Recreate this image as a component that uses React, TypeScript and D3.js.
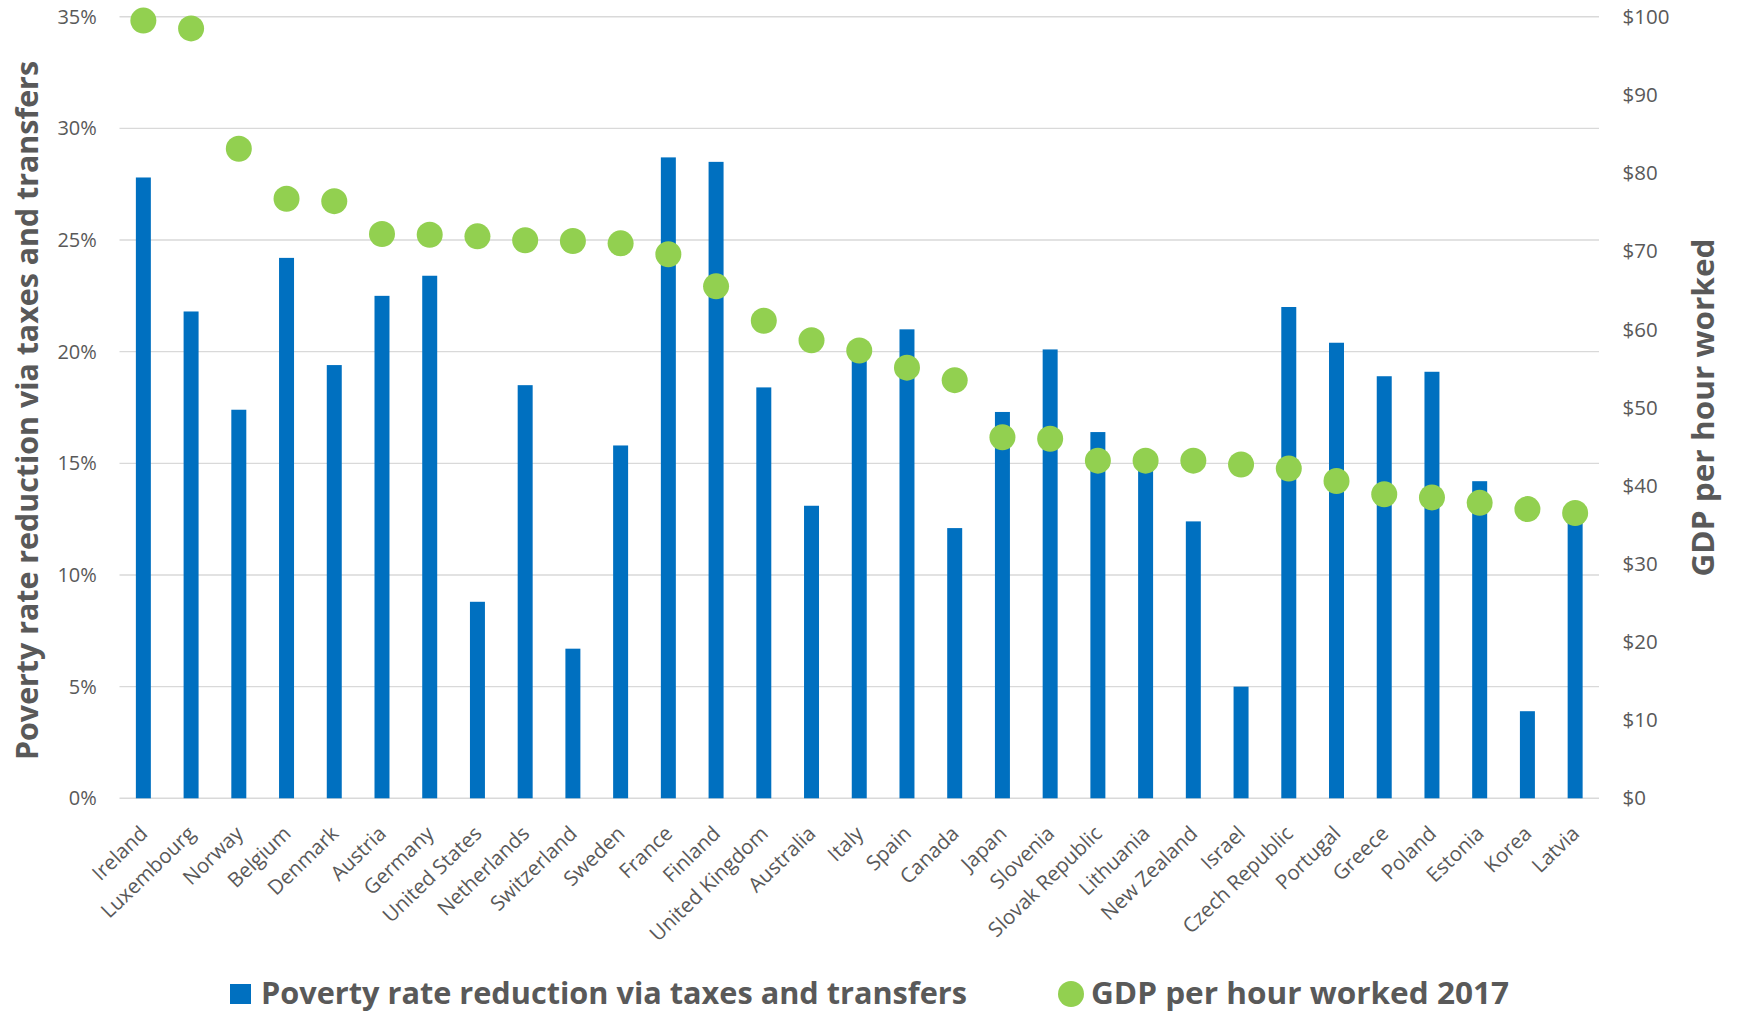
import React from 'react';
import * as d3 from 'd3';

const countries = [
  'Ireland', 'Luxembourg', 'Norway', 'Belgium', 'Denmark', 'Austria', 'Germany',
  'United States', 'Netherlands', 'Switzerland', 'Sweden', 'France', 'Finland',
  'United Kingdom', 'Australia', 'Italy', 'Spain', 'Canada', 'Japan', 'Slovenia',
  'Slovak Republic', 'Lithuania', 'New Zealand', 'Israel', 'Czech Republic',
  'Portugal', 'Greece', 'Poland', 'Estonia', 'Korea', 'Latvia',
];

// Poverty rate reduction via taxes and transfers (%)
const povertyReduction = [
  27.8, 21.8, 17.4, 24.2, 19.4, 22.5, 23.4, 8.8, 18.5, 6.7, 15.8, 28.7, 28.5,
  18.4, 13.1, 19.9, 21.0, 12.1, 17.3, 20.1, 16.4, 15.0, 12.4, 5.0, 22.0,
  20.4, 18.9, 19.1, 14.2, 3.9, 12.7,
];

// GDP per hour worked 2017 (USD)
const gdpPerHour = [
  99.5, 98.5, 83.1, 76.7, 76.4, 72.2, 72.1, 71.9, 71.4, 71.3, 71.0, 69.6, 65.5,
  61.1, 58.6, 57.3, 55.1, 53.5, 46.2, 46.0, 43.2, 43.2, 43.2, 42.7, 42.2,
  40.6, 38.9, 38.5, 37.8, 37.0, 36.5,
];

const leftTicks = [0, 5, 10, 15, 20, 25, 30, 35];
const rightTicks = [0, 10, 20, 30, 40, 50, 60, 70, 80, 90, 100];

const leftTitle = 'Poverty rate reduction via taxes and transfers';
const rightTitle = 'GDP per hour worked';
const legendBar = 'Poverty rate reduction via taxes and transfers';
const legendDot = 'GDP per hour worked 2017';

const BAR_COLOR = '#0070C0';
const DOT_COLOR = '#92D050';
const TEXT_COLOR = '#595959';
const GRID_COLOR = '#D9D9D9';
const FONT = "'Open Sans', 'Noto Sans', sans-serif";

export default function App() {
  const W = 1737;
  const H = 1012;
  const plotLeft = 119.5;
  const plotRight = 1599;
  const plotTop = 16.7;
  const plotBottom = 798.3;

  const x = d3.scaleBand<string>().domain(countries).range([plotLeft, plotRight]).padding(0);
  const yL = d3.scaleLinear().domain([0, 35]).range([plotBottom, plotTop]);
  const yR = d3.scaleLinear().domain([0, 100]).range([plotBottom, plotTop]);
  const barW = x.bandwidth() * 0.314;
  const cx = (c: string) => (x(c) as number) + x.bandwidth() / 2;

  return (
    <svg
      width={W}
      height={H}
      style={{ position: 'absolute', left: 0, top: 0, display: 'block', background: '#fff' }}
      fontFamily={FONT}
    >
      <rect x={0} y={0} width={W} height={H} fill="#fff" />
      {/* gridlines */}
      {leftTicks.map((t) => (
        <line
          key={'g' + t}
          x1={plotLeft}
          x2={plotRight}
          y1={yL(t)}
          y2={yL(t)}
          stroke={GRID_COLOR}
          strokeWidth={1.4}
        />
      ))}
      {/* left tick labels */}
      {leftTicks.map((t) => (
        <text
          key={'l' + t}
          x={96.8}
          y={yL(t)}
          dy="0.35em"
          textAnchor="end"
          fontSize={20}
          fill={TEXT_COLOR}
        >
          {t + '%'}
        </text>
      ))}
      {/* right tick labels */}
      {rightTicks.map((t) => (
        <text
          key={'r' + t}
          x={1622.5}
          y={yR(t)}
          dy="0.35em"
          textAnchor="start"
          fontSize={20.5}
          fill={TEXT_COLOR}
        >
          {'$' + t}
        </text>
      ))}
      {/* bars */}
      {countries.map((c, i) => (
        <rect
          key={'b' + c}
          x={cx(c) - barW / 2}
          y={yL(povertyReduction[i])}
          width={barW}
          height={yL(0) - yL(povertyReduction[i])}
          fill={BAR_COLOR}
        />
      ))}
      {/* dots */}
      {countries.map((c, i) => (
        <circle key={'d' + c} cx={cx(c)} cy={yR(gdpPerHour[i])} r={13} fill={DOT_COLOR} />
      ))}
      {/* x labels */}
      {countries.map((c) => (
        <text
          key={'x' + c}
          transform={`translate(${cx(c) + 5.5},${835}) rotate(-44)`}
          textAnchor="end"
          fontSize={20.5}
          fill={TEXT_COLOR}
        >
          {c}
        </text>
      ))}
      {/* axis titles */}
      <text
        transform={`translate(38,${(plotTop + plotBottom) / 2 + 3}) rotate(-90)`}
        textAnchor="middle"
        fontSize={31}
        fontWeight="bold"
        fill={TEXT_COLOR}
        textLength={699}
        lengthAdjust="spacingAndGlyphs"
      >
        {leftTitle}
      </text>
      <text
        transform={`translate(1714,${(plotTop + plotBottom) / 2}) rotate(-90)`}
        textAnchor="middle"
        fontSize={31}
        fontWeight="bold"
        fill={TEXT_COLOR}
        textLength={338}
        lengthAdjust="spacingAndGlyphs"
      >
        {rightTitle}
      </text>
      {/* legend */}
      <rect x={230} y={984} width={21} height={20} fill={BAR_COLOR} />
      <text
        x={261}
        y={1004}
        fontSize={31}
        fontWeight="bold"
        fill={TEXT_COLOR}
        textLength={706}
        lengthAdjust="spacingAndGlyphs"
      >
        {legendBar}
      </text>
      <circle cx={1071} cy={994} r={13} fill={DOT_COLOR} />
      <text
        x={1091}
        y={1004}
        fontSize={31}
        fontWeight="bold"
        fill={TEXT_COLOR}
        textLength={418}
        lengthAdjust="spacingAndGlyphs"
      >
        {legendDot}
      </text>
    </svg>
  );
}
